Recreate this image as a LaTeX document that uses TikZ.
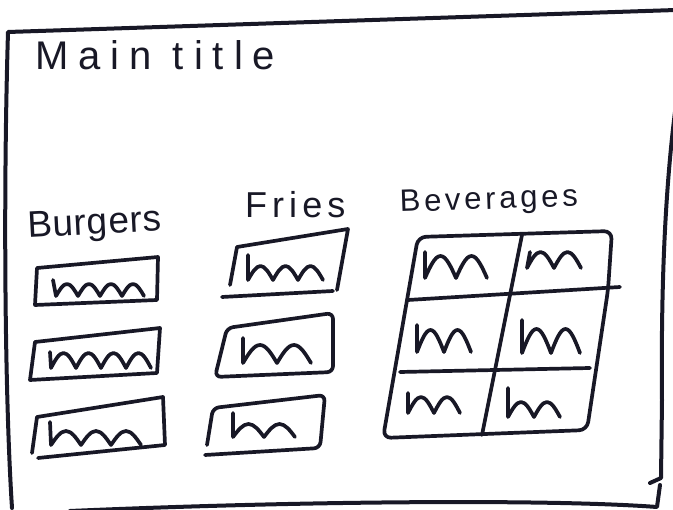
\documentclass[tikz,border=0pt]{standalone}
\usepackage{fontspec}
\setmainfont{Liberation Sans}
\definecolor{ink}{RGB}{24,24,38}
\newcommand{\squig}[5]{\draw[pen] #1 -- ++(#2) \foreach \k in {1,...,#3}{ sin ++(#4/2,-#5) cos ++(#4/2,#5)};}
\begin{document}
\begin{tikzpicture}[x=1pt,y=-1pt,line join=round,line cap=round,
  pen/.style={ink,line width=3.7pt},
  hand/.style={ink,anchor=base west,inner sep=0pt}]
 \useasboundingbox (0,0) rectangle (673,510);
 \draw[pen,line width=4pt] (676,10) -- (8,32) .. controls (3,200) and (5,400) .. (12,508);
 \draw[pen,line width=4pt] (70,511) .. controls (300,501) and (550,499) .. (657,507) -- (660,485);
 \draw[pen,line width=4pt] (675,112) .. controls (664,200) and (661,300) .. (662,400) -- (661,478) -- (650,483);
 \node[hand] (title) at (35,70) {\fontsize{40}{48}\selectfont\addfontfeature{LetterSpace=25}Main title};
 \node[hand,rotate=3] (burgers) at (28,238) {\fontsize{37}{44}\selectfont\addfontfeature{LetterSpace=2}Burgers};
 \node[hand] (fries) at (245,218) {\fontsize{36}{44}\selectfont\addfontfeature{LetterSpace=14}Fries};
 \node[hand,rotate=2] (beverages) at (400,212) {\fontsize{31}{38}\selectfont\addfontfeature{LetterSpace=12}Beverages};
 \draw[pen] (37,268) -- (158,257) -- (157,300) -- (35,305) -- cycle;
 \draw[pen] (35,342) -- (160,328) -- (157,373) -- (30,380) -- cycle;
 \draw[pen] (32,453) -- (37,417) -- (163,397) -- (165,445) -- (38,458);
 \draw[pen] (230,285) -- (237,247) -- (348,229) -- (337,290);
 \draw[pen] (222,297) -- (333,291);
 \draw[pen,rounded corners=6pt] (227,328) -- (333,313) -- (333,372) -- (215,377) -- cycle;
 \draw[pen,rounded corners=6pt] (207,445) -- (213,408) -- (325,395) -- (320,448) -- (205,455);
 \draw[pen,rounded corners=8pt] (418,237) -- (612,231) -- (608,290) -- (587,430) -- (383,438) -- cycle;
 \draw[pen] (408,300) -- (620,287);
 \draw[pen] (400,372) -- (590,368);
 \draw[pen] (522,235) -- (482,435);
 \squig{(53,280)}{3,16}{4}{22}{12}
 \squig{(50,352)}{1,16}{4}{25}{15}
 \squig{(50,422)}{1,23}{3}{30}{14}
 \squig{(248,255)}{0,25}{3}{25}{14}
 \squig{(243,338)}{0,25}{2}{34}{18}
 \squig{(233,413)}{0,24}{2}{31}{13}
 \squig{(425,252)}{0,26}{2}{31}{22}
 \squig{(530,252)}{-3,16}{2}{27}{16}
 \squig{(417,325)}{0,27}{2}{27}{22}
 \squig{(522,320)}{0,33}{2}{29}{24}
 \squig{(408,393)}{0,20}{2}{26}{16}
 \squig{(508,388)}{0,29}{2}{26}{15}
\end{tikzpicture}
\end{document}
